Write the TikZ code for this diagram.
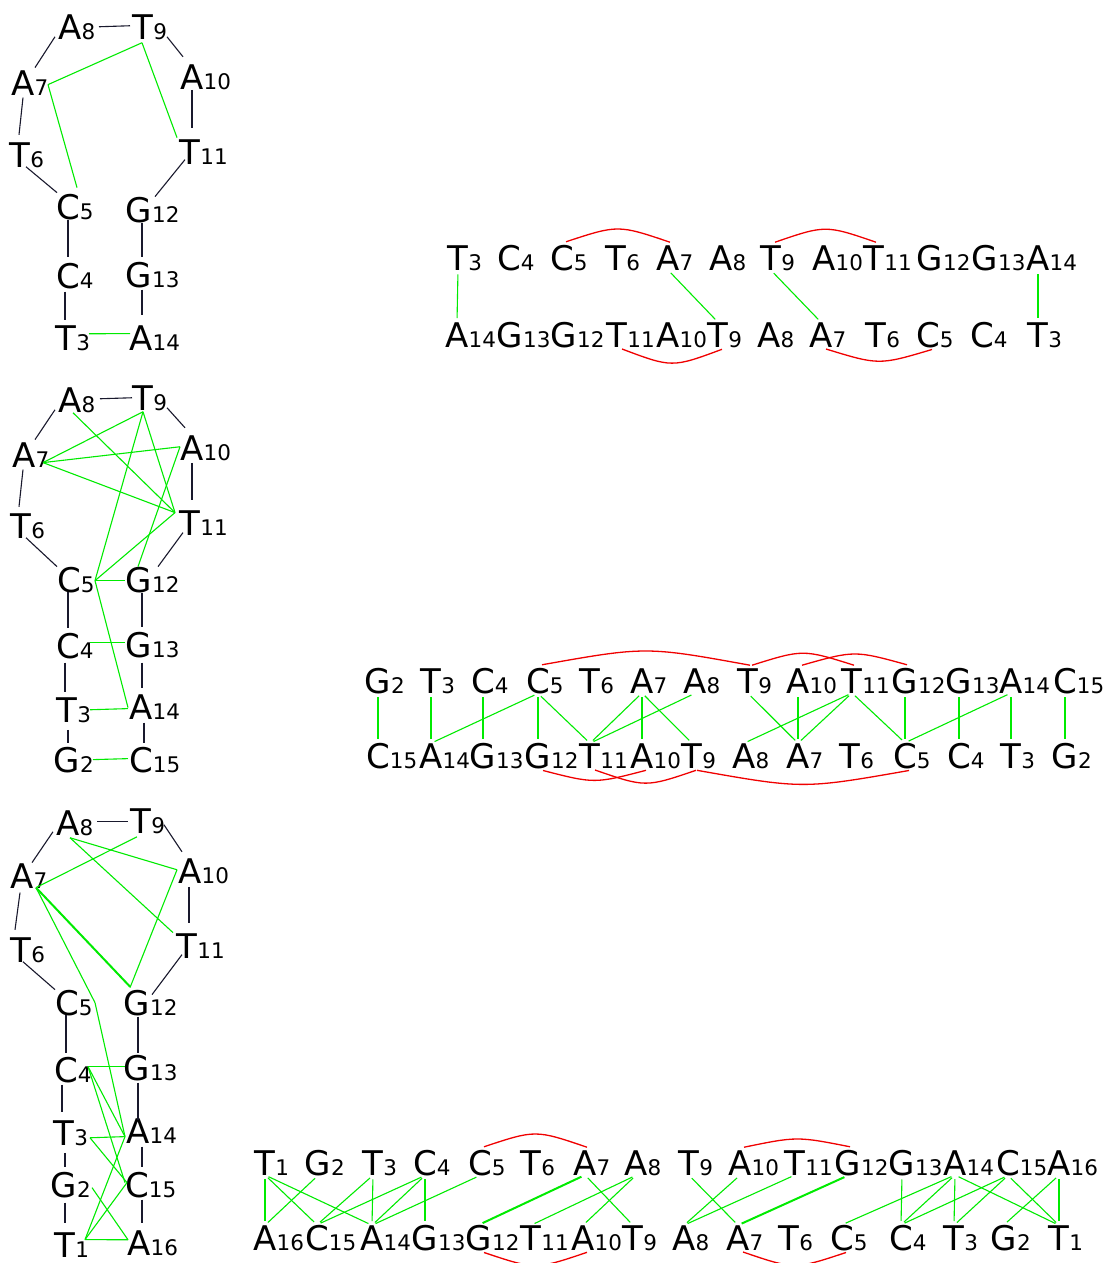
\documentclass[tikz,border=0pt]{standalone}
\usepackage{fontspec}
\setmainfont{DejaVu Sans}
\usetikzlibrary{calc}
\definecolor{bkc}{RGB}{25,25,45}
\definecolor{grc}{RGB}{0,235,0}
\definecolor{rdc}{RGB}{240,0,0}
\newcommand\mainsz{\fontsize{34}{37}\selectfont}
\newcommand\subsz{\fontsize{21.5}{24}\selectfont}
\tikzset{
  letn/.style={inner sep=0pt, outer sep=0pt, font=\mainsz},
  blk/.style={draw=bkc, line width=1.1pt},
  gln/.style={draw=grc, line width=1.1pt},
  glthick/.style={draw=grc, line width=2pt},
  redl/.style={draw=rdc, line width=1.3pt},
  lin/.style={draw=grc, line width=1.1pt, shorten <=4pt, shorten >=4pt},
  linthick/.style={lin, line width=2pt},
}
\newcommand\resnode[5]{\node[letn,anchor=base] (#1) at (#2,#3) {#4\rlap{\subsz #5}};}
\newcommand\hconn[5]{\draw[#1] ($(#2)+(#3)$) -- ($(#4)+(#5)$);}
\newcommand\lconn[3][lin]{\draw[#1] (#2.south) -- (#3.north);}
\newcommand\tarc[3]{\draw[redl] ($(#1.north)+(4,-3)$) .. controls ($(#1.north)!.5!(#2.north)+(3,{-3-1.333*#3})$) .. ($(#2.north)+(2,-3)$);}
\newcommand\barc[3]{\draw[redl] ($(#1.south)+(5,2)$) .. controls ($(#1.south)!.5!(#2.south)+(4.5,{2+1.333*#3})$) .. ($(#2.south)+(4,2)$);}
\begin{document}
\begin{tikzpicture}[x=1pt,y=-1pt]
\useasboundingbox (0,0) rectangle (1107,1263);
\clip (0,0) rectangle (1107,1263);
\fill[white] (0,0) rectangle (1107,1263);
% ---------------- hairpin 1
\resnode{h1A8}{70}{40}{A}{8}
\resnode{h1T9}{143}{40}{T}{9}
\resnode{h1A7}{23}{95}{A}{7}
\resnode{h1A10}{192}{89}{A}{10}
\resnode{h1T6}{20}{167}{T}{6}
\resnode{h1T11}{190}{164}{T}{11}
\resnode{h1C5}{68}{219}{C}{5}
\resnode{h1G12}{139}{222}{G}{12}
\resnode{h1C4}{68}{288}{C}{4}
\resnode{h1G13}{139}{287}{G}{13}
\resnode{h1T3}{66}{350}{T}{3}
\resnode{h1A14}{141}{350}{A}{14}
\hconn{blk}{h1A8}{29,-1}{h1T9}{-13,-2}
\hconn{blk}{h1A7}{12,-15}{h1A8}{-15,9}
\hconn{blk}{h1A7}{0,15}{h1T6}{-1,-20}
\hconn{blk}{h1T6}{6,12}{h1C5}{-11,-14}
\hconn{blk}{h1C5}{0,13}{h1C4}{0,-19}
\hconn{blk}{h1C4}{-3,16}{h1T3}{-1,-18}
\hconn{blk}{h1T9}{24,9}{h1A10}{-9,-20}
\hconn{blk}{h1A10}{0,13}{h1T11}{2,-24}
\hconn{blk}{h1T11}{-5,8}{h1G12}{16,-13}
\hconn{blk}{h1G12}{3,13}{h1G13}{3,-18}
\hconn{blk}{h1G13}{3,15}{h1A14}{1,-23}
\hconn{gln}{h1T9}{-1,15}{h1A7}{25,2}
\hconn{gln}{h1A7}{25,2}{h1C5}{9,-19}
\hconn{gln}{h1T9}{-1,15}{h1T11}{-13,-14}
\hconn{gln}{h1T3}{23,-4}{h1A14}{-11,-4}
% ---------------- hairpin 2
\resnode{h2A8}{70}{412}{A}{8}
\resnode{h2T9}{143}{410}{T}{9}
\resnode{h2A7}{24}{467}{A}{7}
\resnode{h2A10}{192}{460}{A}{10}
\resnode{h2T6}{21}{538}{T}{6}
\resnode{h2T11}{190}{535}{T}{11}
\resnode{h2C5}{69}{592}{C}{5}
\resnode{h2G12}{139}{592}{G}{12}
\resnode{h2C4}{68}{658}{C}{4}
\resnode{h2G13}{139}{657}{G}{13}
\resnode{h2T3}{67}{722}{T}{3}
\resnode{h2A14}{141}{719}{A}{14}
\resnode{h2G2}{67}{772}{G}{2}
\resnode{h2C15}{141}{772}{C}{15}
\hconn{blk}{h2A8}{30,-1}{h2T9}{-11,0}
\hconn{blk}{h2A7}{11,-15}{h2A8}{-15,10}
\hconn{blk}{h2A7}{-1,15}{h2T6}{-2,-19}
\hconn{blk}{h2T6}{5,12}{h2C5}{-12,-13}
\hconn{blk}{h2C5}{-1,12}{h2C4}{0,-18}
\hconn{blk}{h2C4}{-3,17}{h2T3}{-2,-18}
\hconn{blk}{h2T3}{1,20}{h2G2}{1,-17}
\hconn{blk}{h2T9}{24,10}{h2A10}{-7,-20}
\hconn{blk}{h2A10}{0,15}{h2T11}{2,-23}
\hconn{blk}{h2T11}{-7,10}{h2G12}{19,-13}
\hconn{blk}{h2G12}{3,13}{h2G13}{3,-18}
\hconn{blk}{h2G13}{3,18}{h2A14}{1,-19}
\hconn{blk}{h2A14}{3,16}{h2C15}{3,-17}
\hconn{gln}{h2T9}{0,14}{h2A7}{19,8}
\hconn{gln}{h2A8}{3,13}{h2T11}{-15,-10}
\hconn{gln}{h2A7}{19,8}{h2A10}{-12,-1}
\hconn{gln}{h2A7}{19,8}{h2T11}{-15,-10}
\hconn{gln}{h2T9}{0,14}{h2T11}{-15,-10}
\hconn{gln}{h2T9}{0,14}{h2C5}{26,1}
\hconn{gln}{h2A10}{-12,-1}{h2G12}{-1,-13}
\hconn{gln}{h2T11}{-15,-10}{h2C5}{26,1}
\hconn{gln}{h2C5}{26,1}{h2G12}{-14,1}
\hconn{gln}{h2C5}{26,1}{h2A14}{-13,1}
\hconn{gln}{h2C4}{22,-3}{h2G13}{-14,-2}
\hconn{gln}{h2T3}{23,0}{h2A14}{-13,2}
\hconn{gln}{h2G2}{26,0}{h2C15}{-13,-1}
% ---------------- hairpin 3
\resnode{h3A8}{68}{835}{A}{8}
\resnode{h3T9}{141}{833}{T}{9}
\resnode{h3A7}{22}{888}{A}{7}
\resnode{h3A10}{190}{883}{A}{10}
\resnode{h3T6}{21}{962}{T}{6}
\resnode{h3T11}{187}{958}{T}{11}
\resnode{h3C5}{67}{1015}{C}{5}
\resnode{h3G12}{137}{1015}{G}{12}
\resnode{h3C4}{66}{1082}{C}{4}
\resnode{h3G13}{137}{1080}{G}{13}
\resnode{h3T3}{64}{1145}{T}{3}
\resnode{h3A14}{138}{1143}{A}{14}
\resnode{h3G2}{64}{1197}{G}{2}
\resnode{h3C15}{137}{1197}{C}{15}
\resnode{h3T1}{65}{1257}{T}{1}
\resnode{h3A16}{139}{1255}{A}{16}
\hconn{blk}{h3A8}{29,-1}{h3T9}{-13,1}
\hconn{blk}{h3A7}{10,-13}{h3A8}{-15,9}
\hconn{blk}{h3A7}{-2,17}{h3T6}{-6,-20}
\hconn{blk}{h3T6}{2,12}{h3C5}{-12,-13}
\hconn{blk}{h3C5}{-1,12}{h3C4}{0,-17}
\hconn{blk}{h3C4}{-4,15}{h3T3}{-2,-21}
\hconn{blk}{h3T3}{1,20}{h3G2}{1,-18}
\hconn{blk}{h3G2}{1,18}{h3T1}{0,-22}
\hconn{blk}{h3T9}{23,4}{h3A10}{-8,-19}
\hconn{blk}{h3A10}{-1,16}{h3T11}{2,-23}
\hconn{blk}{h3T11}{-5,9}{h3G12}{15,-8}
\hconn{blk}{h3G12}{1,14}{h3G13}{1,-15}
\hconn{blk}{h3G13}{1,15}{h3A14}{0,-11}
\hconn{blk}{h3A14}{4,16}{h3C15}{5,-18}
\hconn{blk}{h3C15}{5,15}{h3A16}{3,-20}
\hconn{gln}{h3A8}{2,15}{h3A10}{-13,-1}
\hconn{gln}{h3A8}{2,15}{h3T11}{-14,-13}
\hconn{gln}{h3T9}{-4,16}{h3A7}{14,12}
\hconn{glthick}{h3A7}{14,12}{h3G12}{-7,-16}
\hconn{gln}{h3A10}{-13,-1}{h3G12}{-7,-15}
\hconn{gln}{h3A7}{14,12}{h3C5}{28,0}
\hconn{gln}{h3C5}{28,0}{h3A14}{-13,6}
\hconn{gln}{h3C4}{22,-3}{h3G13}{-12,-1}
\hconn{gln}{h3C4}{22,-3}{h3A14}{-13,6}
\hconn{gln}{h3C4}{22,-3}{h3C15}{-12,-2}
\hconn{gln}{h3T3}{26,5}{h3A14}{-13,6}
\hconn{gln}{h3T3}{26,5}{h3C15}{-10,-2}
\hconn{gln}{h3G2}{28,3}{h3A16}{-11,-3}
\hconn{gln}{h3T1}{20,-5}{h3A16}{-11,-3}
\hconn{gln}{h3T1}{20,-5}{h3A14}{-13,6}
\hconn{gln}{h3T1}{20,-5}{h3C15}{-10,-2}
% ---------------- linear 1
\resnode{u1T3}{458}{270}{T}{3}
\resnode{u1C4}{509}{270}{C}{4}
\resnode{u1C5}{562}{270}{C}{5}
\resnode{u1T6}{616}{270}{T}{6}
\resnode{u1A7}{668}{270}{A}{7}
\resnode{u1A8}{721}{270}{A}{8}
\resnode{u1T9}{771}{270}{T}{9}
\resnode{u1A10}{824}{270}{A}{10}
\resnode{u1T11}{874}{270}{T}{11}
\resnode{u1G12}{930}{270}{G}{12}
\resnode{u1G13}{985}{270}{G}{13}
\resnode{u1A14}{1038}{270}{A}{14}
\resnode{d1A14}{457}{347}{A}{14}
\resnode{d1G13}{510}{347}{G}{13}
\resnode{d1G12}{564}{347}{G}{12}
\resnode{d1T11}{617}{347}{T}{11}
\resnode{d1A10}{668}{347}{A}{10}
\resnode{d1T9}{718}{347}{T}{9}
\resnode{d1A8}{769}{347}{A}{8}
\resnode{d1A7}{821}{347}{A}{7}
\resnode{d1T6}{876}{347}{T}{6}
\resnode{d1C5}{928}{347}{C}{5}
\resnode{d1C4}{982}{347}{C}{4}
\resnode{d1T3}{1038}{347}{T}{3}
\lconn{u1T3}{d1A14}
\lconn{u1A7}{d1T9}
\lconn{u1T9}{d1A7}
\lconn{u1A14}{d1T3}
\tarc{u1C5}{u1A7}{13}
\tarc{u1T9}{u1T11}{13}
\barc{d1T11}{d1T9}{14}
\barc{d1A7}{d1C5}{12}
% ---------------- linear 2
\resnode{u2G2}{378}{693}{G}{2}
\resnode{u2T3}{431}{693}{T}{3}
\resnode{u2C4}{483}{693}{C}{4}
\resnode{u2C5}{538}{693}{C}{5}
\resnode{u2T6}{590}{693}{T}{6}
\resnode{u2A7}{642}{693}{A}{7}
\resnode{u2A8}{695}{693}{A}{8}
\resnode{u2T9}{748}{693}{T}{9}
\resnode{u2A10}{798}{693}{A}{10}
\resnode{u2T11}{852}{693}{T}{11}
\resnode{u2G12}{905}{693}{G}{12}
\resnode{u2G13}{959}{693}{G}{13}
\resnode{u2A14}{1011}{693}{A}{14}
\resnode{u2C15}{1065}{693}{C}{15}
\resnode{d2C15}{378}{768}{C}{15}
\resnode{d2A14}{431}{768}{A}{14}
\resnode{d2G13}{483}{768}{G}{13}
\resnode{d2G12}{538}{768}{G}{12}
\resnode{d2T11}{590}{768}{T}{11}
\resnode{d2A10}{642}{768}{A}{10}
\resnode{d2T9}{692}{768}{T}{9}
\resnode{d2A8}{744}{768}{A}{8}
\resnode{d2A7}{798}{768}{A}{7}
\resnode{d2T6}{850}{768}{T}{6}
\resnode{d2C5}{905}{768}{C}{5}
\resnode{d2C4}{959}{768}{C}{4}
\resnode{d2T3}{1011}{768}{T}{3}
\resnode{d2G2}{1065}{768}{G}{2}
\lconn{u2G2}{d2C15}
\lconn{u2T3}{d2A14}
\lconn{u2C4}{d2G13}
\lconn{u2C5}{d2A14}
\lconn{u2C5}{d2G12}
\lconn{u2C5}{d2T11}
\lconn{u2A7}{d2T11}
\lconn{u2A8}{d2T11}
\lconn{u2A7}{d2A10}
\lconn{u2A7}{d2T9}
\lconn{u2T9}{d2A7}
\lconn{u2A10}{d2A7}
\lconn{u2T11}{d2A8}
\lconn{u2T11}{d2A7}
\lconn{u2T11}{d2C5}
\lconn{u2G12}{d2C5}
\lconn{u2G13}{d2C4}
\lconn{u2A14}{d2C5}
\lconn{u2A14}{d2T3}
\lconn{u2C15}{d2G2}
\tarc{u2C5}{u2T9}{14}
\tarc{u2T9}{u2T11}{12}
\tarc{u2A10}{u2G12}{11}
\barc{d2G12}{d2A10}{10}
\barc{d2T11}{d2T9}{13}
\barc{d2T9}{d2C5}{14}
% ---------------- linear 3
\resnode{u3T1}{265}{1175}{T}{1}
\resnode{u3G2}{318}{1175}{G}{2}
\resnode{u3T3}{373}{1175}{T}{3}
\resnode{u3C4}{425}{1175}{C}{4}
\resnode{u3C5}{480}{1175}{C}{5}
\resnode{u3T6}{531}{1175}{T}{6}
\resnode{u3A7}{585}{1175}{A}{7}
\resnode{u3A8}{636}{1175}{A}{8}
\resnode{u3T9}{689}{1175}{T}{9}
\resnode{u3A10}{740}{1175}{A}{10}
\resnode{u3T11}{795}{1175}{T}{11}
\resnode{u3G12}{848}{1175}{G}{12}
\resnode{u3G13}{902}{1175}{G}{13}
\resnode{u3A14}{955}{1175}{A}{14}
\resnode{u3C15}{1008}{1175}{C}{15}
\resnode{u3A16}{1059}{1175}{A}{16}
\resnode{d3A16}{265}{1250}{A}{16}
\resnode{d3C15}{317}{1250}{C}{15}
\resnode{d3A14}{372}{1250}{A}{14}
\resnode{d3G13}{425}{1250}{G}{13}
\resnode{d3G12}{479}{1250}{G}{12}
\resnode{d3T11}{531}{1250}{T}{11}
\resnode{d3A10}{583}{1250}{A}{10}
\resnode{d3T9}{633}{1250}{T}{9}
\resnode{d3A8}{684}{1250}{A}{8}
\resnode{d3A7}{738}{1250}{A}{7}
\resnode{d3T6}{789}{1250}{T}{6}
\resnode{d3C5}{842}{1250}{C}{5}
\resnode{d3C4}{901}{1250}{C}{4}
\resnode{d3T3}{954}{1250}{T}{3}
\resnode{d3G2}{1004}{1250}{G}{2}
\resnode{d3T1}{1059}{1250}{T}{1}
\lconn{u3T1}{d3A16}
\lconn{u3T1}{d3C15}
\lconn{u3T1}{d3A14}
\lconn{u3G2}{d3A16}
\lconn{u3T3}{d3C15}
\lconn{u3T3}{d3A14}
\lconn{u3C4}{d3C15}
\lconn{u3C4}{d3A14}
\lconn{u3C4}{d3G13}
\lconn{u3C5}{d3A14}
\lconn[linthick]{u3A7}{d3G12}
\lconn{u3A7}{d3T9}
\lconn{u3A8}{d3T11}
\lconn{u3A8}{d3A10}
\lconn{u3T9}{d3A7}
\lconn{u3A10}{d3A8}
\lconn{u3T11}{d3A8}
\lconn[linthick]{u3G12}{d3A7}
\lconn{u3G13}{d3C4}
\lconn{u3A14}{d3C5}
\lconn{u3A14}{d3C4}
\lconn{u3A14}{d3T3}
\lconn{u3A14}{d3T1}
\lconn{u3C15}{d3C4}
\lconn{u3C15}{d3T3}
\lconn{u3C15}{d3T1}
\lconn{u3A16}{d3G2}
\lconn{u3A16}{d3T1}
\tarc{u3C5}{u3A7}{13}
\tarc{u3A10}{u3G12}{8}
\barc{d3G12}{d3A10}{13}
\barc{d3A7}{d3C5}{13}
\end{tikzpicture}
\end{document}
